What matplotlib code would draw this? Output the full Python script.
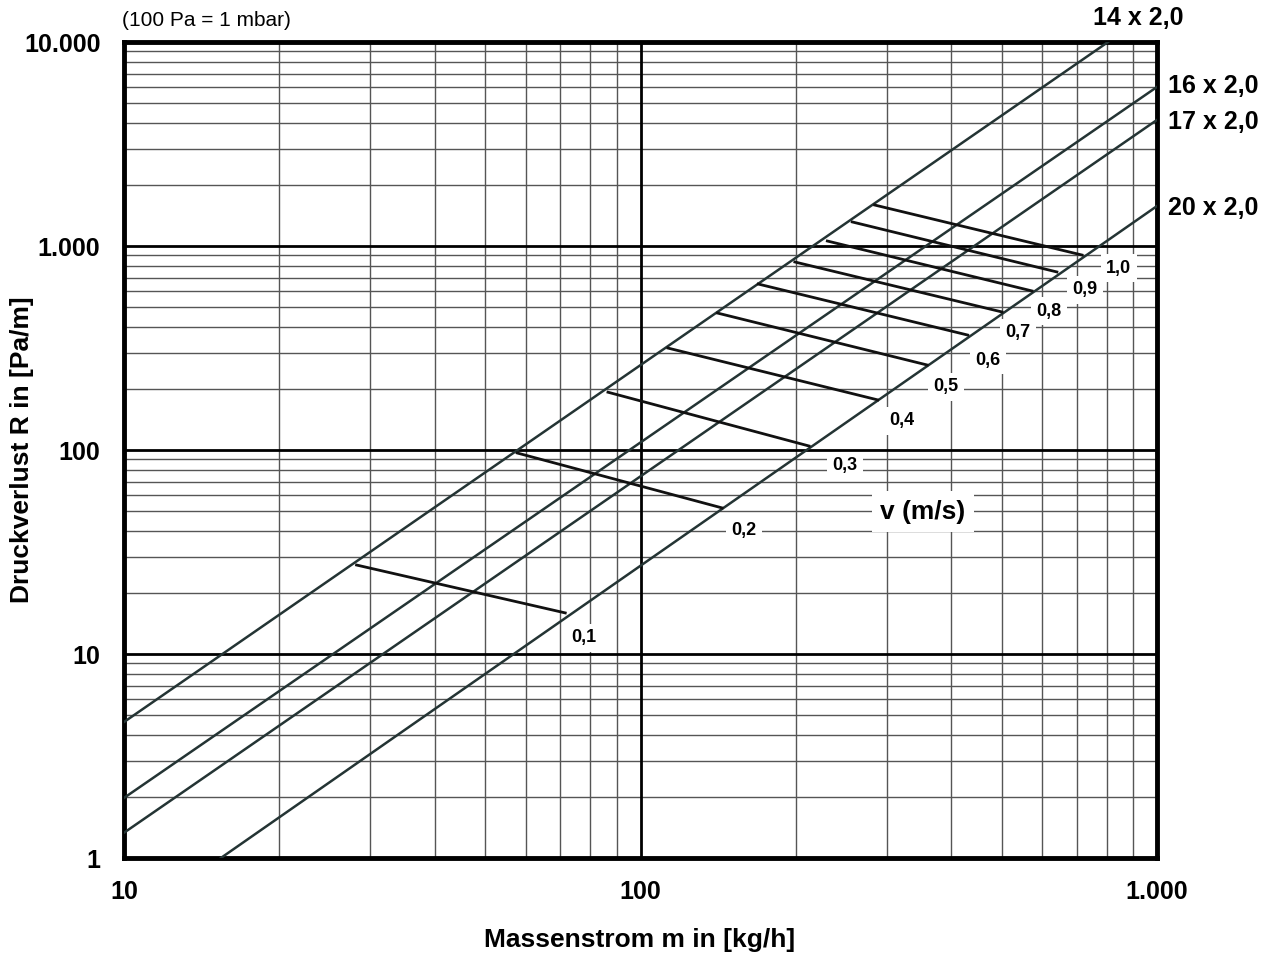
import matplotlib
matplotlib.use("Agg")
import matplotlib.pyplot as plt
import numpy as np

plt.rcParams['font.family'] = ['Liberation Sans', 'DejaVu Sans']

# Rohrleitungen: Anfangs- und Endpunkt (Massenstrom kg/h, Druckverlust Pa/m)
pipe_names = ['14 x 2,0', '16 x 2,0', '17 x 2,0', '20 x 2,0']
pipe_m = [[10, 804], [10, 1000], [10, 1000], [15.4, 1000]]
pipe_R = [[4.64, 10000], [1.97, 6020], [1.33, 4150], [1.0, 1570]]

# Geschwindigkeitslinien v (m/s): von 14x2,0 bis 20x2,0
v_labels = ['0,1', '0,2', '0,3', '0,4', '0,5', '0,6', '0,7', '0,8', '0,9', '1,0']
v_m_start = [28.2, 57.7, 86.5, 113, 141, 169, 199, 230, 257, 284]
v_R_start = [27.3, 96.7, 192, 316, 469, 651, 835, 1058, 1312, 1588]
v_m_end = [71.5, 143.9, 212, 288, 359, 430, 501, 573, 640, 716]
v_R_end = [15.9, 52, 104.6, 176, 261, 366, 475, 602, 746, 903]

# Position der Beschriftungen (m, R)
v_lab_m = [77.7, 158.6, 249, 321, 390, 471, 538, 618, 726, 843]
v_lab_R = [12.0, 40.5, 83.5, 139, 204, 276, 375, 480, 609, 780]

x_ticks = [10, 100, 1000]
x_ticklabels = ['10', '100', '1.000']
y_ticks = [1, 10, 100, 1000, 10000]
y_ticklabels = ['1', '10', '100', '1.000', '10.000']

W, H = 1272, 959
fig = plt.figure(figsize=(W / 100, H / 100), dpi=100)
ax = fig.add_axes([124 / W, (H - 858) / H, 1033 / W, 816 / H])
ax.set_xscale('log')
ax.set_yscale('log')
ax.set_xlim(10, 1000)
ax.set_ylim(1, 10000)

# Gitter
ax.set_xticks(x_ticks)
ax.set_xticklabels(x_ticklabels, fontsize=18, fontweight='bold')
ax.set_yticks(y_ticks)
ax.set_yticklabels(y_ticklabels, fontsize=18, fontweight='bold')
ax.tick_params(which='both', length=0)
ax.tick_params(axis='y', pad=17)
ax.tick_params(axis='x', pad=16)
ax.grid(which='minor', color='#555555', lw=1.0, zorder=1)
for yv in [10, 100, 1000]:
    ax.axhline(yv, color='black', lw=2.0, zorder=1.5)
ax.axvline(100, color='black', lw=2.0, zorder=1.5)
ax.set_axisbelow(True)
for s in ax.spines.values():
    s.set_linewidth(3.5)

# Rohrkennlinien
for name, m, R in zip(pipe_names, pipe_m, pipe_R):
    ax.plot(m, R, color='#243434', lw=1.8, zorder=3)

# Geschwindigkeitslinien
for i in range(len(v_labels)):
    ax.plot([v_m_start[i], v_m_end[i]], [v_R_start[i], v_R_end[i]],
            color='#111111', lw=2.0, zorder=3)
    ax.text(v_lab_m[i], v_lab_R[i], v_labels[i], fontsize=13, fontweight='bold',
            ha='center', va='center', zorder=4,
            bbox=dict(facecolor='white', edgecolor='none', pad=4))

ax.text(352, 49.7, 'v (m/s)', fontsize=19, fontweight='bold', ha='center', va='center',
        zorder=4, bbox=dict(facecolor='white', edgecolor='none', pad=6))

# Rohrbeschriftungen
fig.text(1138 / W, 1 - 18 / H, pipe_names[0], fontsize=18, fontweight='bold', ha='center', va='center')
fig.text(1168 / W, 1 - 86 / H, pipe_names[1], fontsize=18, fontweight='bold', ha='left', va='center')
fig.text(1168 / W, 1 - 122 / H, pipe_names[2], fontsize=18, fontweight='bold', ha='left', va='center')
fig.text(1168 / W, 1 - 208 / H, pipe_names[3], fontsize=18, fontweight='bold', ha='left', va='center')

fig.text(122 / W, 1 - 20 / H, '(100 Pa = 1 mbar)', fontsize=15, ha='left', va='center')

fig.text(22 / W, 1 - 450 / H, 'Druckverlust R in [Pa/m]', fontsize=19, fontweight='bold',
         rotation=90, ha='center', va='center')
fig.text(640 / W, 1 - 940 / H, 'Massenstrom m in [kg/h]', fontsize=19, fontweight='bold',
         ha='center', va='center')

fig.savefig('out.png', dpi=100)
